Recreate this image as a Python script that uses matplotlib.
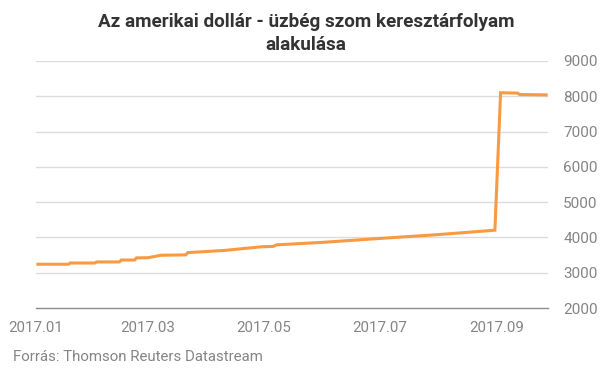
"""
USD/UZS cross rate, 2017
"""

import datetime as dt
import matplotlib
matplotlib.use('Agg')
import matplotlib.pyplot as plt
import matplotlib.dates as mdates

plt.rcParams['font.family'] = ['Roboto', 'DejaVu Sans']

TITLE_1 = 'Az amerikai dollár - üzbég szom keresztárfolyam'
TITLE_2 = 'alakulása'
SOURCE = 'Forrás: Thomson Reuters Datastream'

dates = ['2017-01-02', '2017-01-18', '2017-01-19', '2017-02-01', '2017-02-02',
         '2017-02-14', '2017-02-15', '2017-02-22', '2017-02-23', '2017-03-01',
         '2017-03-08', '2017-03-21', '2017-03-22', '2017-04-10', '2017-04-30',
         '2017-05-06', '2017-05-08', '2017-06-01', '2017-07-01', '2017-08-01',
         '2017-08-31', '2017-09-03', '2017-09-12', '2017-09-13', '2017-09-27']
rates = [3240, 3240, 3275, 3275, 3305,
         3305, 3360, 3360, 3420, 3425,
         3495, 3505, 3570, 3630, 3735,
         3745, 3790, 3860, 3970, 4080,
         4205, 8100, 8090, 8050, 8040]

y_ticks = [2000, 3000, 4000, 5000, 6000, 7000, 8000, 9000]
x_ticks = ['2017-01-01', '2017-03-01', '2017-05-01', '2017-07-01', '2017-09-01']


def main():
    """
    Docstring
    """
    xs = [dt.datetime.strptime(d, '%Y-%m-%d') for d in dates]
    xt = [dt.datetime.strptime(d, '%Y-%m-%d') for d in x_ticks]

    fig = plt.figure(figsize=(6.05, 3.78), dpi=100)
    ax = fig.add_axes([36 / 605, 70 / 378, 512 / 605, 247 / 378])

    for yv in y_ticks[1:]:
        ax.axhline(yv, color='#dcdcdc', lw=1, zorder=1)

    ax.plot(xs, rates, color='#f79a41', lw=2.2, zorder=3,
            solid_joinstyle='miter')

    ax.set_ylim(2000, 9000)
    ax.set_xlim(dt.datetime(2017, 1, 1), dt.datetime(2017, 9, 28))
    ax.set_yticks(y_ticks)
    ax.set_xticks(xt)
    ax.xaxis.set_major_formatter(mdates.DateFormatter('%Y.%m'))

    for side in ['top', 'left', 'right']:
        ax.spines[side].set_visible(False)
    ax.spines['bottom'].set_color('#8c8c8c')
    ax.spines['bottom'].set_linewidth(1)

    ax.yaxis.tick_right()
    ax.tick_params(axis='y', length=0, pad=11, labelsize=11, labelcolor='#858585')
    ax.tick_params(axis='x', length=0, pad=9, labelsize=10.8, labelcolor='#858585')

    fig.text(306 / 605, 1 - 22 / 378, TITLE_1, ha='center', va='center',
             fontsize=13.6, fontweight='bold', color='#333333')
    fig.text(306 / 605, 1 - 45 / 378, TITLE_2, ha='center', va='center',
             fontsize=13.6, fontweight='bold', color='#333333')
    fig.text(13 / 605, 1 - 357 / 378, SOURCE, ha='left', va='center',
             fontsize=10.8, color='#858585')

    fig.savefig('out.png', dpi=100)


if __name__ == "__main__":
    main()
